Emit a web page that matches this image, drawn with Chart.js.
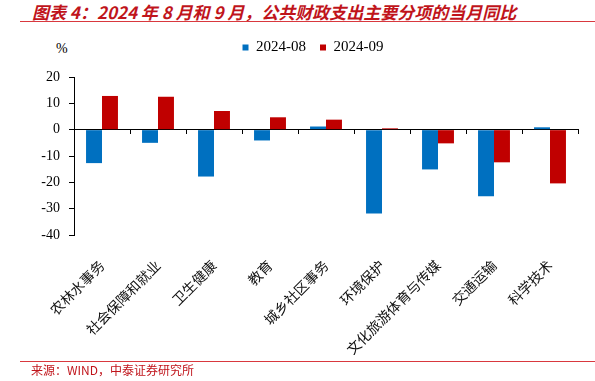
<!DOCTYPE html>
<html>
<head>
<meta charset="utf-8">
<script src="https://cdn.jsdelivr.net/npm/chart.js@4/dist/chart.umd.min.js"></script>
<style>
  html, body { margin: 0; padding: 0; background: #fff; }
  #page { position: relative; width: 595px; height: 381px; overflow: hidden; }
  #chart-box { position: absolute; left: 0; top: 0; width: 595px; height: 381px; }
  .title {
    position: absolute; left: 32px; top: -1px;
    font-family: "Noto Sans CJK SC", sans-serif; font-size: 17px;
    font-weight: bold; font-style: italic; color: #c0141b; white-space: nowrap;
  }
  .rule { position: absolute; left: 20px; right: 0; height: 1px; background: #d9383e; }
  .source {
    position: absolute; left: 31px; top: 361px;
    font-family: "Noto Sans CJK SC", sans-serif; font-size: 12px; color: #c0141b; white-space: nowrap;
  }
  .unit {
    position: absolute; left: 56px; top: 41px;
    font-family: "Liberation Serif", serif; font-size: 14px; color: #000;
  }
</style>
</head>
<body>
<div id="page">
  <div class="title">图表 4：2024 年 8 月和 9 月，公共财政支出主要分项的当月同比</div>
  <div class="rule" style="top:21px"></div>
  <div class="unit">%</div>
  <div id="chart-box"><canvas id="chart"></canvas></div>
  <div class="rule" style="top:361px"></div>
  <div class="source">来源：WIND，中泰证券研究所</div>
</div>
<script>
// Données : croissance mensuelle en glissement annuel (%)
const categories = ['农林水事务', '社会保障和就业', '卫生健康', '教育', '城乡社区事务',
                    '环境保护', '文化旅游体育与传媒', '交通运输', '科学技术'];
const seriesNames = ['2024-08', '2024-09'];
const aug2024 = [-12.7, -5.0, -17.8, -4.1, 1.2, -31.8, -15.1, -25.3, 0.9];
const sep2024 = [12.8, 12.5, 7.1, 4.7, 3.8, 0.5, -5.2, -12.4, -20.4];
const yTicks = [20, 10, 0, -10, -20, -30, -40];

const BLUE = '#0070c0';
const RED = '#c00000';
const serif = '"Liberation Serif", "Times New Roman", serif';

// Décale la légende après la mise en page (hors zone de tracé)
const legendShift = {
    id: 'legendShift',
    afterLayout(chart) {
        const lg = chart.legend;
        if (!lg) return;
        lg.top -= 12; lg.bottom -= 12;
        lg.left += 7; lg.right += 7;
    }
};

new Chart(document.getElementById('chart'), {
    type: 'bar',
    data: {
        labels: categories,
        datasets: [
            { label: seriesNames[0], data: aug2024, backgroundColor: BLUE, xAxisID: 'x' },
            { label: seriesNames[1], data: sep2024, backgroundColor: RED, xAxisID: 'x' }
        ]
    },
    plugins: [legendShift],
    options: {
        responsive: true,
        maintainAspectRatio: false,
        animation: false,
        layout: { padding: { left: 34, right: 17, top: 25, bottom: 26 } },
        datasets: { bar: { categoryPercentage: 0.57, barPercentage: 1 } },
        plugins: {
            legend: {
                position: 'top',
                labels: {
                    boxWidth: 6, boxHeight: 6, padding: 14,
                    color: '#000',
                    font: { family: serif, size: 15 }
                }
            },
            tooltip: { enabled: false }
        },
        scales: {
            x: {
                type: 'category',
                position: 'bottom',
                offset: true,
                border: { display: false },
                grid: { display: false },
                ticks: {
                    minRotation: 45, maxRotation: 45, padding: 14,
                    color: '#111',
                    font: { family: '"Noto Sans CJK SC", sans-serif', size: 14 }
                },
                afterFit(scale) { scale.height = 120; }
            },
            // ligne du zéro avec les graduations entre catégories
            x0: {
                type: 'category',
                position: { y: 0 },
                offset: true,
                border: { display: true, color: '#000', width: 1 },
                grid: { drawOnChartArea: false, offset: true, tickLength: 4, color: '#000' },
                ticks: { display: false }
            },
            y: {
                min: -40, max: 20,
                border: { display: true, color: '#000', width: 1 },
                grid: { drawOnChartArea: false, tickLength: 5, color: '#000' },
                afterBuildTicks(scale) { scale.ticks = yTicks.map(v => ({ value: v })); },
                ticks: {
                    padding: 9,
                    color: '#000',
                    font: { family: serif, size: 14 }
                },
                afterFit(scale) {
                    scale.width = 40;
                    // haut de la zone de tracé aligné sur la référence
                    scale.paddingTop = 77;
                }
            }
        }
    }
});
</script>
</body>
</html>
